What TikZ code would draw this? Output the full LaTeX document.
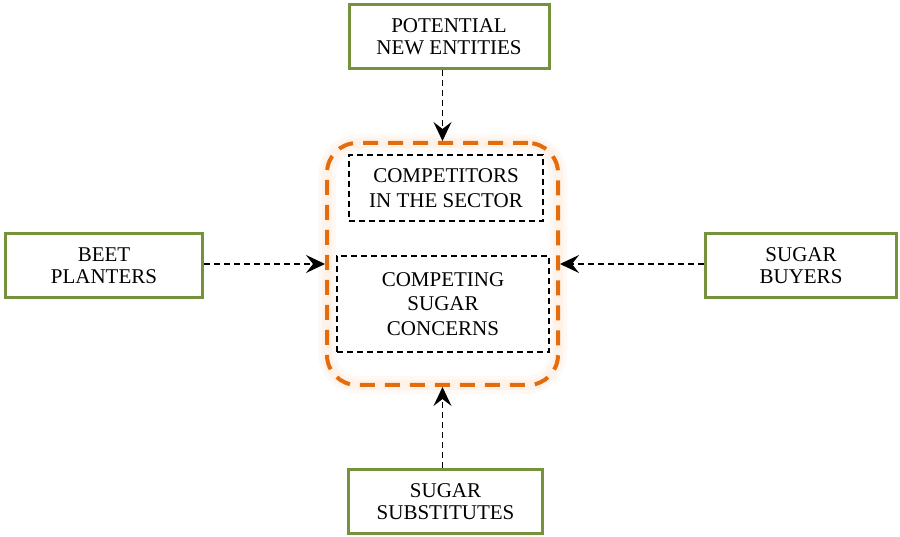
\documentclass[tikz,border=0pt]{standalone}
\usepackage{fontspec}
\setmainfont{Liberation Serif}
\usetikzlibrary{arrows.meta}
\definecolor{forcegreen}{RGB}{118,146,60}
\definecolor{rivalorange}{RGB}{228,108,10}
\tikzset{force/.style={draw=forcegreen, line width=3pt, fill=white, align=center, minimum height=64pt, font=\fontsize{21}{22}\selectfont},
  inner/.style={draw, dash pattern=on 6pt off 4pt, line width=1.3pt, align=center, font=\fontsize{21}{24.5}\selectfont},
  push/.style={dash pattern=on 6pt off 4pt, line width=1.3pt, -{Stealth[length=19pt, width=18pt, inset=7pt]}}}

\begin{document}
\begin{tikzpicture}[x=1pt, y=-1pt]
\useasboundingbox (0,0) rectangle (900,537);

% the sector itself
\draw[rivalorange!4, line width=18pt, rounded corners=32pt] (327,143) rectangle (558,385);
\draw[rivalorange!8, line width=10pt, rounded corners=31pt] (327,143) rectangle (558,385);
\node (rivalry) [draw=rivalorange, line width=4pt, dash pattern=on 15pt off 10pt, rounded corners=30pt, minimum width=231pt, minimum height=242pt] at (442.5,264) {};
\node (sector) [inner, minimum width=194pt, minimum height=66pt] at (446,188) {COMPETITORS\\IN THE SECTOR};
\node (concerns) [inner, minimum width=212pt, minimum height=96pt] at (443,304) {COMPETING\\SUGAR\\CONCERNS};

% the four forces round it
\node (entrants) [force, minimum width=200pt] at (449,36.5) {POTENTIAL\\NEW ENTITIES};
\node (planters) [force, minimum width=197pt] at (104,265.5) {BEET\\PLANTERS};
\node (buyers) [force, minimum width=191pt] at (801,265.5) {SUGAR\\BUYERS};
\node (substitutes) [force, minimum width=194pt] at (445.5,501.5) {SUGAR\\SUBSTITUTES};

\draw[push] (rivalry.north |- entrants.south) -- (rivalry.north);
\draw[push] (rivalry.south |- substitutes.north) -- (rivalry.south);
\draw[push] (planters.east |- rivalry.west) -- (rivalry.west);
\draw[push] (buyers.west |- rivalry.east) -- (rivalry.east);
\end{tikzpicture}
\end{document}
